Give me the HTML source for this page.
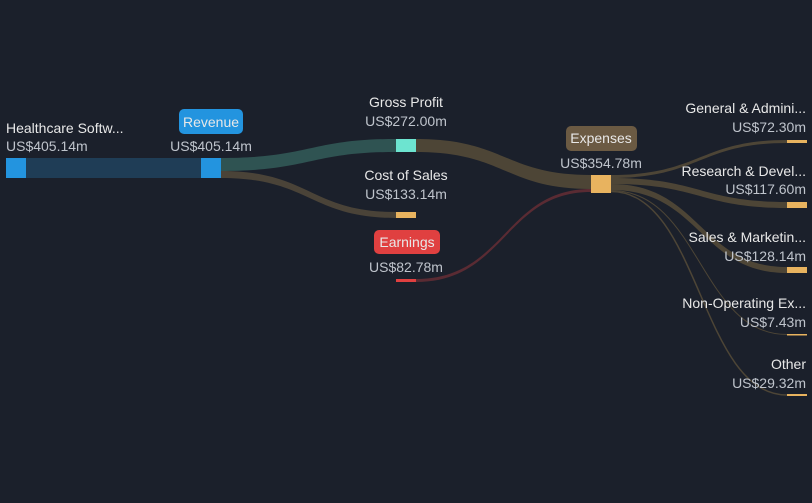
<html><body style="margin:0;background:#1b202b">
<svg width="812" height="503" xmlns="http://www.w3.org/2000/svg" style="display:block;font-family:'Liberation Sans',sans-serif;font-size:14px">
<rect width="812" height="503" fill="#1b202b"/>
<rect x="26" y="158" width="175" height="20" fill="#1f3d56"/>
<path d="M221,158 C310,158 310,139 396,139 L396,152 C310,152 310,171 221,171Z" fill="#2f5352"/>
<path d="M221,171 C310,171 310,212 396,212 L396,218 C310,218 310,178 221,178Z" fill="#4a4338"/>
<path d="M416,139 C505,139 505,175 591,175 L591,189 C505,189 505,152 416,152Z" fill="#4d4536"/>
<path d="M416,279 C505,279 505,189 591,189 L591,192 C505,192 505,282 416,282Z" fill="#5a2b33"/>
<path d="M611,175 C700,175 700,140 787,140 L787,143 C700,143 700,178 611,178Z" fill="#4d4536"/>
<path d="M611,178 C700,178 700,202 787,202 L787,208 C700,208 700,184 611,184Z" fill="#4d4536"/>
<path d="M611,184 C700,184 700,267 787,267 L787,273 C700,273 700,190 611,190Z" fill="#4d4536"/>
<path d="M611,190.5 C700,190.5 700,334.5 787,334.5" stroke="#4d4536" stroke-width="1" fill="none"/>
<path d="M611,191.5 C700,191.5 700,395 787,395" stroke="#4d4536" stroke-width="1.5" fill="none"/>
<rect x="6" y="158" width="20" height="20" fill="#2394df"/>
<rect x="201" y="158" width="20" height="20" fill="#2394df"/>
<rect x="396" y="139" width="20" height="13" fill="#6de4d0"/>
<rect x="396" y="212" width="20" height="6" fill="#e8b35f"/>
<rect x="396" y="279" width="20" height="3" fill="#e04040"/>
<rect x="591" y="175" width="20" height="18" fill="#e8b35f"/>
<rect x="787" y="140" width="20" height="3" fill="#e8b35f"/>
<rect x="787" y="202" width="20" height="6" fill="#e8b35f"/>
<rect x="787" y="267" width="20" height="6" fill="#e8b35f"/>
<rect x="787" y="334" width="20" height="1.5" fill="#e8b35f"/>
<rect x="787" y="394" width="20" height="2" fill="#e8b35f"/>
<rect x="179" y="109" width="64" height="25" rx="5" fill="#2394df"/>
<rect x="374" y="230" width="66" height="24" rx="5" fill="#e04040"/>
<rect x="566" y="126" width="71" height="25" rx="5" fill="#6b5a43"/>
<g fill="#e8e8e8">
<text x="6" y="133">Healthcare Softw...</text>
<text x="211" y="127" text-anchor="middle">Revenue</text>
<text x="406" y="107" text-anchor="middle">Gross Profit</text>
<text x="406" y="180" text-anchor="middle">Cost of Sales</text>
<text x="407" y="247" text-anchor="middle">Earnings</text>
<text x="601" y="143" text-anchor="middle">Expenses</text>
<g text-anchor="end">
<text x="806" y="113">General &amp; Admini...</text>
<text x="806" y="176">Research &amp; Devel...</text>
<text x="806" y="242">Sales &amp; Marketin...</text>
<text x="806" y="308">Non-Operating Ex...</text>
<text x="806" y="369">Other</text>
</g></g>
<g fill="#bfc4cc">
<text x="6" y="151">US$405.14m</text>
<text x="211" y="151" text-anchor="middle">US$405.14m</text>
<text x="406" y="126" text-anchor="middle">US$272.00m</text>
<text x="406" y="199" text-anchor="middle">US$133.14m</text>
<text x="406" y="272" text-anchor="middle">US$82.78m</text>
<text x="601" y="168" text-anchor="middle">US$354.78m</text>
<g text-anchor="end">
<text x="806" y="132">US$72.30m</text>
<text x="806" y="194">US$117.60m</text>
<text x="806" y="261">US$128.14m</text>
<text x="806" y="327">US$7.43m</text>
<text x="806" y="388">US$29.32m</text>
</g></g>
</svg>
</body></html>
